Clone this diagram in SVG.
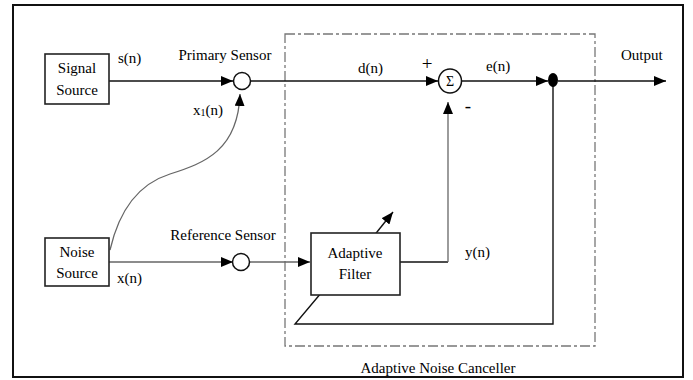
<svg xmlns="http://www.w3.org/2000/svg" width="693" height="380" viewBox="0 0 693 380">
<defs>
<style>
text{font-family:"Liberation Serif","Times New Roman",serif;font-size:15px;fill:#000}
.box{fill:#fff;stroke:#222;stroke-width:1.6}
.ln{fill:none;stroke:#111;stroke-width:1.4}
.gl{fill:none;stroke:#666;stroke-width:1.3}
.c{text-anchor:middle}
</style>
<marker id="ah" viewBox="0 0 12 10" refX="12" refY="5" markerWidth="12" markerHeight="10" orient="auto" markerUnits="userSpaceOnUse">
<path d="M0,0 L12,5 L0,10 z" fill="#000"/>
</marker>
</defs>
<rect x="0" y="0" width="693" height="380" fill="#fff"/>
<rect x="13" y="5" width="670" height="372" fill="none" stroke="#111" stroke-width="2"/>

<g id="anc">
<rect x="285" y="34" width="310" height="312" fill="none" stroke="#777" stroke-width="1.3" stroke-dasharray="10 3 3 3"/>
<text x="438" y="373" class="c">Adaptive Noise Canceller</text>
</g>

<g id="connectors">
<line class="ln" x1="109" y1="81" x2="233" y2="81" marker-end="url(#ah)"/>
<line class="ln" x1="251" y1="81" x2="438" y2="81" marker-end="url(#ah)"/>
<line class="ln" x1="462" y1="81" x2="548" y2="81" marker-end="url(#ah)"/>
<line class="ln" x1="558" y1="81" x2="666" y2="81" marker-end="url(#ah)"/>
<polyline class="ln" points="553,81 553,324 295,324 332,280"/>
<line class="ln" x1="369" y1="242" x2="393" y2="212" marker-end="url(#ah)"/>
<path class="gl" d="M110,250 C118,215 135,185 170,174 C205,163 238,150 240,94" marker-end="url(#ah)"/>
<line class="gl" x1="109" y1="262" x2="233" y2="262" marker-end="url(#ah)"/>
<line class="gl" x1="250" y1="262" x2="310" y2="262" marker-end="url(#ah)"/>
<line class="ln" x1="400" y1="262" x2="448" y2="262" stroke-width="2"/>
<line class="gl" x1="448" y1="262" x2="448" y2="102" marker-end="url(#ah)"/>
</g>

<g id="signal-source">
<rect class="box" x="45" y="54" width="64" height="50"/>
<text x="77" y="73" class="c">Signal</text>
<text x="77" y="95" class="c">Source</text>
</g>
<g id="noise-source">
<rect class="box" x="45" y="238" width="64" height="48"/>
<text x="77" y="257" class="c">Noise</text>
<text x="77" y="278" class="c">Source</text>
</g>
<g id="primary-sensor">
<circle cx="242" cy="81" r="8.5" fill="#fff" stroke="#111" stroke-width="1.5"/>
<text x="225" y="60" class="c">Primary Sensor</text>
</g>
<g id="reference-sensor">
<circle cx="241" cy="262" r="8.5" fill="#fff" stroke="#111" stroke-width="1.5"/>
<text x="223" y="240" class="c">Reference Sensor</text>
</g>
<g id="sum">
<ellipse cx="450" cy="81" rx="11.5" ry="12" fill="#fff" stroke="#111" stroke-width="1.5"/>
<text x="450" y="86" class="c" style="font-size:14px">Σ</text>
<text x="427" y="70" class="c" style="font-size:19px">+</text>
<text x="468" y="112" class="c" style="font-size:19px">-</text>
</g>
<g id="junction">
<ellipse cx="553" cy="80" rx="5" ry="7" fill="#000"/>
</g>
<g id="adaptive-filter">
<rect class="box" x="311" y="233" width="89" height="62"/>
<text x="355" y="258" class="c">Adaptive</text>
<text x="355" y="279" class="c">Filter</text>
</g>

<g id="labels">
<text x="118" y="63">s(n)</text>
<text x="193" y="115">x<tspan style="font-size:10px" dy="1">1</tspan><tspan dy="-1">(n)</tspan></text>
<text x="358" y="73">d(n)</text>
<text x="486" y="71">e(n)</text>
<text x="621" y="60">Output</text>
<text x="117" y="283">x(n)</text>
<text x="465" y="257">y(n)</text>
</g>
</svg>
